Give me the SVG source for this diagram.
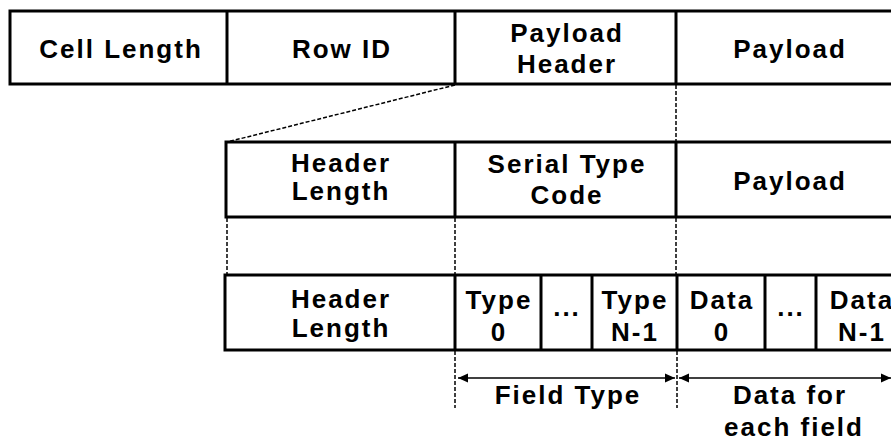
<svg xmlns="http://www.w3.org/2000/svg" width="891" height="441" viewBox="0 0 891 441">
<style>
.box{fill:#fff;stroke:#000;stroke-width:3}
.div{stroke:#000;stroke-width:3}
.dash{stroke:#000;stroke-width:1.5;stroke-dasharray:4 2;fill:none}
.arr{stroke:#000;stroke-width:1.5;fill:none}
text{font-family:"Liberation Sans",Arial,sans-serif;font-weight:bold;font-size:26px;letter-spacing:2px;text-anchor:middle;fill:#000}
</style>
<defs>
<marker id="ah" viewBox="0 0 10 10" refX="10" refY="5" markerWidth="10" markerHeight="10" markerUnits="userSpaceOnUse" orient="auto-start-reverse">
<path d="M0,0.5 L10,5 L0,9.5 Z" fill="#000"/>
</marker>
</defs>
<g id="connectors">
<line class="dash" x1="455" y1="85" x2="227" y2="142"/>
<line class="dash" x1="676" y1="85" x2="676" y2="142"/>
<line class="dash" x1="227" y1="218" x2="227" y2="275"/>
<line class="dash" x1="455" y1="218" x2="455" y2="275"/>
<line class="dash" x1="676" y1="218" x2="676" y2="275"/>
<line class="dash" x1="455" y1="351" x2="455" y2="408"/>
<line class="dash" x1="677" y1="351" x2="677" y2="408"/>
<line class="arr" x1="458" y1="378" x2="675" y2="378" marker-start="url(#ah)" marker-end="url(#ah)"/>
<line class="arr" x1="679" y1="378" x2="891" y2="378" marker-start="url(#ah)" marker-end="url(#ah)"/>
</g>
<g id="row1">
<rect class="box" x="10" y="11" width="900" height="73"/>
<line class="div" x1="227" y1="11" x2="227" y2="84"/>
<line class="div" x1="455" y1="11" x2="455" y2="84"/>
<line class="div" x1="676" y1="11" x2="676" y2="84"/>
<g id="cell-length"><text x="121" y="58">Cell Length</text></g>
<g id="row-id"><text x="342" y="58">Row ID</text></g>
<g id="payload-header"><text x="567" y="42">Payload</text><text x="567" y="73">Header</text></g>
<g id="payload1"><text x="790" y="58">Payload</text></g>
</g>
<g id="row2">
<rect class="box" x="226" y="142" width="700" height="75"/>
<line class="div" x1="455" y1="142" x2="455" y2="217"/>
<line class="div" x1="676" y1="142" x2="676" y2="217"/>
<g id="header-length2"><text x="341" y="172">Header</text><text x="341" y="200">Length</text></g>
<g id="serial-type-code"><text x="567" y="173">Serial Type</text><text x="567" y="204">Code</text></g>
<g id="payload2"><text x="790" y="190">Payload</text></g>
</g>
<g id="row3">
<rect class="box" x="225" y="275" width="700" height="75"/>
<line class="div" x1="455" y1="275" x2="455" y2="350"/>
<line class="div" x1="541" y1="275" x2="541" y2="350"/>
<line class="div" x1="592" y1="275" x2="592" y2="350"/>
<line class="div" x1="677" y1="275" x2="677" y2="350"/>
<line class="div" x1="765" y1="275" x2="765" y2="350"/>
<line class="div" x1="816" y1="275" x2="816" y2="350"/>
<g id="header-length3"><text x="341" y="308">Header</text><text x="341" y="337">Length</text></g>
<g id="type0"><text x="499" y="309">Type</text><text x="499" y="341">0</text></g>
<g id="dots1"><text x="567" y="316">...</text></g>
<g id="typen"><text x="635" y="309">Type</text><text x="635" y="341">N-1</text></g>
<g id="data0"><text x="722" y="309">Data</text><text x="722" y="341">0</text></g>
<g id="dots2"><text x="791" y="316">...</text></g>
<g id="datan"><text x="862" y="309">Data</text><text x="862" y="341">N-1</text></g>
</g>
<g id="labels">
<g id="field-type"><text x="568" y="404">Field Type</text></g>
<g id="data-for"><text x="790" y="404">Data for</text><text x="794" y="436">each field</text></g>
</g>
</svg>
